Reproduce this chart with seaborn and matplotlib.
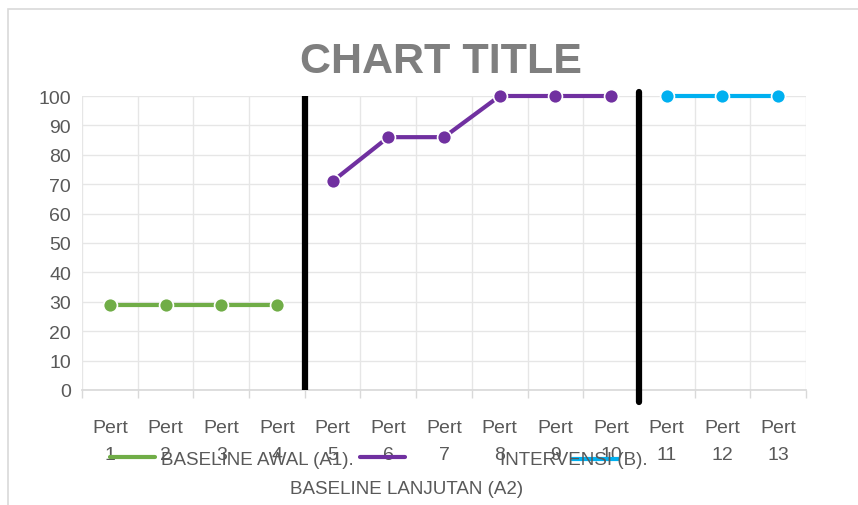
import matplotlib
matplotlib.use("Agg")
import matplotlib.pyplot as plt
import seaborn as sns
import pandas as pd
import numpy as np
from matplotlib.lines import Line2D
from matplotlib.patches import Rectangle

categories = ["Pert\n1", "Pert\n2", "Pert\n3", "Pert\n4", "Pert\n5", "Pert\n6", "Pert\n7",
              "Pert\n8", "Pert\n9", "Pert\n10", "Pert\n11", "Pert\n12", "Pert\n13"]
a1_idx = [0, 1, 2, 3]
a1_vals = [29, 29, 29, 29]
a2_idx = [4, 5, 6, 7, 8, 9]
a2_vals = [71, 86, 86, 100, 100, 100]
b_idx = [10, 11, 12]
b_vals = [100, 100, 100]
phase_lines = [3.5, 9.5]
series_names = ["BASELINE AWAL (A1).", "BASELINE LANJUTAN (A2)", "INTERVENSI (B)."]
colors = ["#70ad47", "#7030a0", "#00b0f0"]

sns.set_theme(style="white")
plt.rcParams['font.family'] = ['Liberation Sans', 'DejaVu Sans']

fig = plt.figure(figsize=(8.58, 5.06), dpi=100)
ax = fig.add_axes([82/858, 1-391/506, (806-82)/858, (391-97)/506])

df = pd.concat([
    pd.DataFrame({"x": a1_idx, "y": a1_vals, "s": series_names[0]}),
    pd.DataFrame({"x": a2_idx, "y": a2_vals, "s": series_names[1]}),
    pd.DataFrame({"x": b_idx, "y": b_vals, "s": series_names[2]}),
])
for name, col in zip(series_names, colors):
    sub = df[df.s == name]
    sns.lineplot(data=sub, x="x", y="y", ax=ax, color=col, lw=3, marker="o",
                 markersize=10, markeredgecolor="white", markeredgewidth=1.2,
                 legend=False, zorder=4, clip_on=False)

# phase change lines
ax.axvline(phase_lines[0], ymin=0, ymax=1.0, color="black", lw=4.5, zorder=3)
ax.axvline(phase_lines[1], ymin=-0.04, ymax=1.013, color="black", lw=4.5, zorder=3, clip_on=False)

ax.set_xlim(-0.5, len(categories) - 0.5)
ax.set_ylim(0, 100)
ax.set_yticks(np.arange(0, 101, 10))
ax.set_xticks(range(len(categories)))
ax.set_xticklabels(categories, fontsize=14, color="#595959", linespacing=1.75)
ax.set_xticks(np.arange(-0.5, len(categories), 1), minor=True)
ax.tick_params(axis="y", labelsize=14, labelcolor="#595959", length=0, pad=8)
ax.tick_params(axis="x", which="major", length=0, pad=21)
ax.tick_params(axis="x", which="minor", length=6, color="#d9d9d9", width=1, bottom=True)
ax.grid(axis="y", color="#e6e6e6", lw=1)
ax.grid(axis="x", which="minor", color="#e6e6e6", lw=1)
ax.grid(axis="x", which="major", visible=False)
for s in ["top", "right", "left"]:
    ax.spines[s].set_visible(False)
ax.spines["bottom"].set_color("#d9d9d9")
ax.set_xlabel("")
ax.set_ylabel("")

fig.text(441/858, 1-62/506, "CHART TITLE", ha="center", va="center", fontsize=31,
         fontweight="bold", color="#7f7f7f")

# outer chart border
fig.patches.append(Rectangle((8/858, -0.1), 1.0, 1-10/506+0.1, transform=fig.transFigure,
                             fill=False, edgecolor="#d9d9d9", lw=1.2))

# legend (manual, mimicking wrapped layout)
leg = [(110, 155, 458, 161, 461, "left"), (360, 405, 458, 407, 490, "center"), (572, 618, 460, 500, 461, "left")]
for (x0, x1, ly, tx, ty, ha), name, col in zip(leg, series_names, colors):
    fig.add_artist(Line2D([x0/858, x1/858], [1-ly/506, 1-ly/506], transform=fig.transFigure,
                          color=col, lw=3))
    fig.text(tx/858, 1-ty/506, name, ha=ha, va="center", fontsize=13.5, color="#595959")

fig.savefig("out.png", dpi=100)
